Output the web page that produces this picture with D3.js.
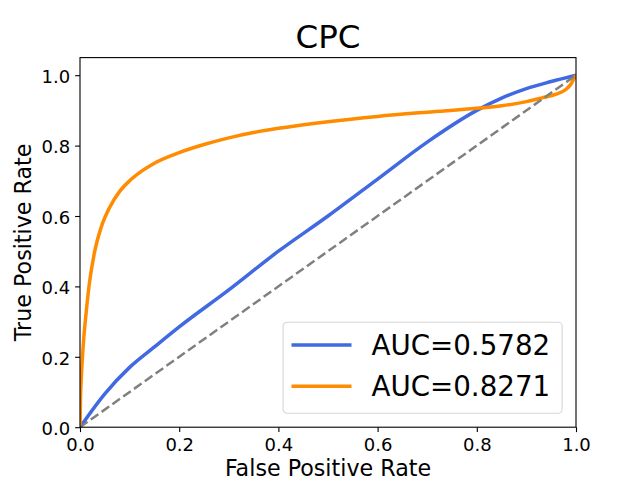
<!DOCTYPE html>
<html>
<head>
<meta charset="utf-8">
<script src="https://cdn.jsdelivr.net/npm/d3@7"></script>
<style>
  html, body { margin: 0; padding: 0; background: #fff; }
  svg { display: block; font-family: "DejaVu Sans", sans-serif; }
</style>
</head>
<body>
<svg id="chart" width="640" height="480"></svg>
<script>
// ── Data ──────────────────────────────────────────────────────────────────────

const blueFpr = [0, 0.05, 0.1, 0.15, 0.2, 0.3, 0.4, 0.5, 0.6, 0.7, 0.8, 0.85, 0.9, 0.95, 1.0];
const blueTpr = [0, 0.095, 0.17, 0.228, 0.285, 0.39, 0.50, 0.60, 0.705, 0.81, 0.90, 0.935, 0.962, 0.982, 1.0];

const orangeFpr = [0, 0.001, 0.003, 0.005, 0.008, 0.012, 0.019, 0.029, 0.042, 0.06, 0.08, 0.10,
                   0.125, 0.15, 0.2, 0.25, 0.3, 0.35, 0.4, 0.5, 0.6, 0.7, 0.8, 0.85, 0.9,
                   0.93, 0.96, 0.98, 0.99, 0.996, 1.0];
const orangeTpr = [0, 0.08, 0.15, 0.2, 0.26, 0.32, 0.41, 0.495, 0.565, 0.625, 0.67, 0.70,
                   0.728, 0.75, 0.78, 0.803, 0.822, 0.837, 0.849, 0.868, 0.883, 0.895, 0.906, 0.913, 0.925,
                   0.935, 0.946, 0.96, 0.975, 0.99, 1.0];

const chanceLine = [[0, 0], [1, 1]];

const seriesLabels = ['AUC=0.5782', 'AUC=0.8271'];
const seriesColors = ['#4169e1', '#ff8c00'];
const tickValues   = [0, 0.2, 0.4, 0.6, 0.8, 1.0];

// ── Layout (matplotlib default 640x480 figure) ────────────────────────────────

const W = 640, H = 480;
const margin = { left: 80, right: 64, top: 57.6, bottom: 52.8 };

const svg = d3.select('#chart');

const x = d3.scaleLinear().domain([0, 1]).range([margin.left, W - margin.right]);
const y = d3.scaleLinear().domain([0, 1.05]).range([H - margin.bottom, margin.top]);

const zip = (a, b) => a.map((v, i) => [v, b[i]]);
const series = [zip(blueFpr, blueTpr), zip(orangeFpr, orangeTpr)];

const line = d3.line()
  .x(d => x(d[0]))
  .y(d => y(d[1]))
  .curve(d3.curveMonotoneX);

// clip to the axes box
svg.append('clipPath').attr('id', 'plot-clip')
  .append('rect')
  .attr('x', x(0)).attr('y', y(1.05))
  .attr('width', x(1) - x(0)).attr('height', y(0) - y(1.05));

const plot = svg.append('g').attr('clip-path', 'url(#plot-clip)');

// ROC curves
series.forEach((pts, i) => {
  plot.append('path')
    .datum(pts)
    .attr('d', line)
    .attr('fill', 'none')
    .attr('stroke', seriesColors[i])
    .attr('stroke-width', 3.5)
    .attr('stroke-linejoin', 'round')
    .attr('stroke-linecap', 'butt');
});

// Chance diagonal
plot.append('path')
  .datum(chanceLine)
  .attr('d', d3.line().x(d => x(d[0])).y(d => y(d[1])))
  .attr('fill', 'none')
  .attr('stroke', '#808080')
  .attr('stroke-width', 2.5)
  .attr('stroke-dasharray', '9.25,4');

// ── Axes ─────────────────────────────────────────────────────────────────────

const tickFmt = d3.format('.1f');

const xAxis = svg.append('g')
  .attr('transform', `translate(0,${y(0)})`)
  .call(d3.axisBottom(x).tickValues(tickValues).tickFormat(tickFmt)
    .tickSize(4.9).tickPadding(4.9).tickSizeOuter(0));

const yAxis = svg.append('g')
  .attr('transform', `translate(${x(0)},0)`)
  .call(d3.axisLeft(y).tickValues(tickValues).tickFormat(tickFmt)
    .tickSize(4.9).tickPadding(4.9).tickSizeOuter(0));

[xAxis, yAxis].forEach(g => {
  g.select('.domain').remove();
  g.selectAll('.tick line').attr('stroke', '#000').attr('stroke-width', 1.1);
  g.selectAll('.tick text')
    .attr('fill', '#000')
    .attr('font-size', 18)
    .attr('font-family', '"DejaVu Sans", sans-serif');
});
yAxis.selectAll('.tick text').attr('dy', '0.4em');
xAxis.selectAll('.tick text').attr('dy', '0.8em');

// Spines (full box)
svg.append('rect')
  .attr('x', x(0)).attr('y', y(1.05))
  .attr('width', x(1) - x(0)).attr('height', y(0) - y(1.05))
  .attr('fill', 'none')
  .attr('stroke', '#000')
  .attr('stroke-width', 1.1);

// Labels
const midX = (x(0) + x(1)) / 2;
const midY = (y(0) + y(1.05)) / 2;

svg.append('text')
  .attr('x', midX).attr('y', 47.5)
  .attr('text-anchor', 'middle')
  .attr('font-size', 32.5)
  .attr('fill', '#000')
  .text('CPC');

svg.append('text')
  .attr('x', midX).attr('y', 476)
  .attr('text-anchor', 'middle')
  .attr('font-size', 22.2)
  .attr('fill', '#000')
  .text('False Positive Rate');

svg.append('text')
  .attr('transform', `translate(31,${midY}) rotate(-90)`)
  .attr('text-anchor', 'middle')
  .attr('font-size', 22.2)
  .attr('fill', '#000')
  .text('True Positive Rate');

// ── Legend (lower right) ─────────────────────────────────────────────────────

const legFont = 27.7;
const legPad  = 13.9;
const legW = 279, legH = 91;
const legX = x(1) - legPad - legW;
const legY = y(0) - legPad - legH;

const leg = svg.append('g').attr('transform', `translate(${legX},${legY})`);

leg.append('rect')
  .attr('x', 0).attr('y', 0)
  .attr('width', legW).attr('height', legH)
  .attr('rx', 4).attr('ry', 4)
  .attr('fill', 'rgba(255,255,255,0.8)')
  .attr('stroke', '#d6d6d6')
  .attr('stroke-width', 1.1);

seriesLabels.forEach((label, i) => {
  const cy = 22.6 + i * 41.4;
  leg.append('line')
    .attr('x1', 8.4).attr('x2', 68.4)
    .attr('y1', cy).attr('y2', cy)
    .attr('stroke', seriesColors[i])
    .attr('stroke-width', 3.5);
  leg.append('text')
    .attr('x', 88.4).attr('y', cy + 10)
    .attr('font-size', legFont)
    .attr('fill', '#000')
    .text(label);
});
</script>
</body>
</html>
